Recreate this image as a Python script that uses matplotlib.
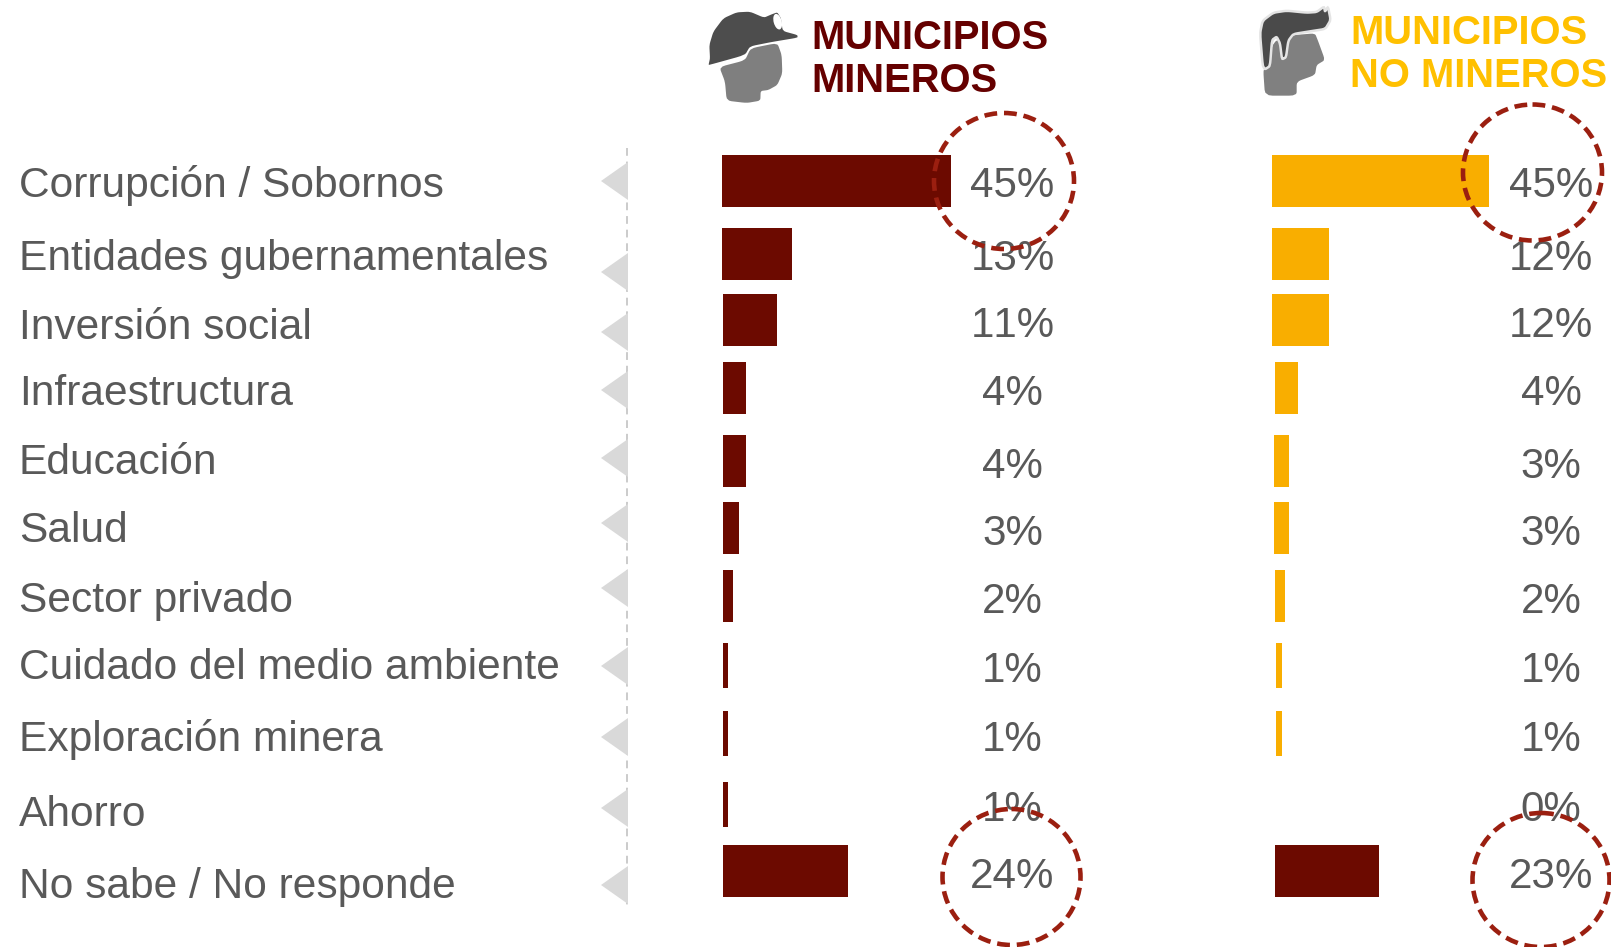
import numpy as np
import matplotlib
matplotlib.use('Agg')
import matplotlib.pyplot as plt
from matplotlib.patches import Ellipse, Polygon

plt.rcParams['font.family'] = ['Liberation Sans', 'DejaVu Sans']
plt.rcParams['text.kerning_factor'] = 6

W, H = 1611, 947

categories = ['Corrupción / Sobornos', 'Entidades gubernamentales', 'Inversión social',
              'Infraestructura', 'Educación', 'Salud', 'Sector privado',
              'Cuidado del medio ambiente', 'Exploración minera', 'Ahorro',
              'No sabe / No responde']

# bar lengths as drawn, in percent
mineros = [45, 13.75, 10.6, 4.5, 4.5, 3.1, 2.0, 1.1, 1.1, 1.1, 24.6]
no_mineros = [45, 11.8, 11.8, 4.8, 3.1, 3.1, 2.1, 1.2, 1.2, 0, 21.6]

# printed labels
mineros_lab = ['45%', '13%', '11%', '4%', '4%', '3%', '2%', '1%', '1%', '1%', '24%']
no_mineros_lab = ['45%', '12%', '12%', '4%', '3%', '3%', '2%', '1%', '1%', '0%', '23%']

# layout, in pixels of the figure
bar_top = [155, 228, 294, 362, 435, 502, 570, 643, 711, 782, 845]
bar_bot = [207, 280, 346, 414, 487, 554, 622, 688, 756, 827, 897]
lab_base = [197, 270, 339, 405, 474, 542, 612, 679, 751, 826, 898]
val_base = [197, 270, 337, 405, 478, 545, 613, 682, 751, 821, 888]
tri_mid = [181, 272, 332, 390, 458, 523, 588, 666, 737, 808, 885]
m_start = [722, 722, 723, 723, 723, 723, 723, 722.5, 722.5, 722.5, 723]
n_start = [1272, 1272, 1272, 1275, 1274, 1274, 1275, 1276, 1276, 1276, 1275]

RED = '#6C0A00'
YEL = '#F9AE00'
GREY = '#595959'
RING = '#9B1F10'

fig = plt.figure(figsize=(W / 100, H / 100), dpi=100)


def bar_axes(x0, px_per_pct):
    # axes that starts at pixel x0, x in percent, y in figure pixels
    ax = fig.add_axes([x0 / W, 0, 60 * px_per_pct / W, 1], zorder=1)
    ax.set_xlim(0, 60)
    ax.set_ylim(H, 0)
    ax.axis('off')
    return ax


ax_m = bar_axes(722, 5.09)
ax_n = bar_axes(1272, 4.82)
y = [(a + b) / 2 for a, b in zip(bar_top, bar_bot)]
h = [b - a for a, b in zip(bar_top, bar_bot)]

ax_m.barh(y, mineros, height=h, left=[(s - 722) / 5.09 for s in m_start], color=RED)
colors_n = [YEL] * 10 + [RED]
ax_n.barh(y, no_mineros, height=h, left=[(s - 1272) / 4.82 for s in n_start], color=colors_n)

# overlay in figure pixels
ov = fig.add_axes([0, 0, 1, 1], zorder=2)
ov.set_xlim(0, W)
ov.set_ylim(H, 0)
ov.axis('off')

for name, base in zip(categories, lab_base):
    ov.text(19, base, name, fontsize=30.6, color=GREY, va='baseline', ha='left')

ov.plot([627, 627], [148, 905], color='#CBCBCB', lw=1.4, ls=(0, (4, 3)), zorder=1)
for mid in tri_mid:
    ov.add_patch(Polygon([(601, mid), (628, mid - 19), (628, mid + 19)], closed=True,
                         fc='#D9D9D9', ec='none', zorder=2))

for lab, base in zip(mineros_lab, val_base):
    ov.text(1012.5, base, lab, fontsize=30.3, color=GREY, va='baseline', ha='center', zorder=3)
for lab, base in zip(no_mineros_lab, val_base):
    ov.text(1551, base, lab, fontsize=30.3, color=GREY, va='baseline', ha='center', zorder=3)

for cx, cy, rx, ry in [(1004, 181, 70, 68), (1532.5, 172.5, 69.5, 68),
                       (1011.5, 877, 69, 68), (1541, 880, 68.5, 67)]:
    ov.add_patch(Ellipse((cx, cy), 2 * rx, 2 * ry, fill=False, ec=RING, lw=3.3,
                         ls=(0, (2.8, 1.5)), zorder=4, clip_on=False))

# headers
ov.text(811, 49, 'MUNICIPIOS', fontsize=28.8, fontweight='bold', color='#650000', va='baseline')
ov.text(811, 92, 'MINEROS', fontsize=28.8, fontweight='bold', color='#650000', va='baseline')
ov.text(1350, 44, 'MUNICIPIOS', fontsize=28.8, fontweight='bold', color='#FFC000', va='baseline')
ov.text(1350, 87, 'NO MINEROS', fontsize=28.8, fontweight='bold', color='#FFC000', va='baseline')


def smooth(pts, n=2, cut=0.14):
    # corner cutting so the icon outlines are not angular
    p = np.array(pts, dtype=float)
    for _ in range(n):
        q = np.roll(p, -1, axis=0)
        p = np.column_stack([(1 - cut) * p + cut * q, cut * p + (1 - cut) * q]).reshape(-1, 2)
    return p


def icon(pts, ox, oy, **kw):
    p = smooth(pts) / 3 + [ox, oy]
    ov.add_patch(Polygon(p, closed=True, **kw))


# miner icon
face = [(58, 186), (135, 166), (152, 130), (232, 114), (245, 150), (247, 205), (232, 240),
        (205, 255), (182, 258), (181, 287), (140, 294), (80, 287), (75, 230)]
helmet = [(26, 178), (30, 160), (28, 120), (40, 80), (70, 40), (110, 22), (150, 20), (192, 38),
          (215, 28), (232, 22), (243, 40), (248, 78), (292, 90), (293, 98), (215, 111),
          (150, 124), (135, 150), (27, 180)]
icon(face, 700, 5, fc='#7F7F7F', ec='none')
icon(helmet, 700, 5, fc='#4D4D4D', ec='none')
ov.add_patch(Ellipse((700 + 233 / 3, 5 + 50 / 3), 8, 16, angle=-15, fc='white', ec='none'))

# no miner icon
face2 = [(45, 200), (72, 125), (110, 110), (135, 105), (195, 100), (205, 125), (225, 180),
         (200, 195), (195, 225), (140, 245), (140, 287), (45, 287), (40, 215)]
hair = [(38, 197), (30, 100), (38, 62), (70, 38), (110, 32), (170, 38), (200, 36), (222, 20),
        (225, 35), (234, 20), (242, 60), (226, 87), (180, 94), (130, 102), (115, 122),
        (108, 172), (96, 178), (90, 130), (80, 110), (66, 120), (60, 198), (45, 208)]
icon(face2, 1250, 0, fc='#808080', ec='none')
icon(hair, 1250, 0, fc='#4A4A4A', ec='#E4E4E4', lw=1.8)

fig.savefig('out.png', dpi=100)
